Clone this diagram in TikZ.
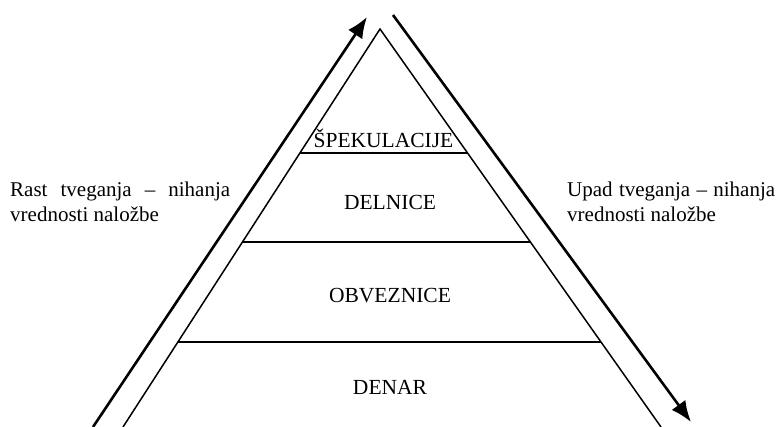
\documentclass[tikz,border=0pt]{standalone}
\usepackage{fontspec}
\setmainfont{Liberation Serif}
\usetikzlibrary{arrows.meta,calc}
\begin{document}
\begin{tikzpicture}[x=1pt,y=-1pt,
  side/.style={line width=1.5pt},
  layer/.style={line width=1.8pt},
  trend/.style={line width=2.6pt,-{Latex[length=21pt,width=17pt]}},
  lab/.style={anchor=base,inner sep=0pt,font=\fontsize{21.5}{25}\selectfont},
  note/.style={anchor=base west,inner sep=0pt,font=\fontsize{21}{25}\selectfont}]
\useasboundingbox (0,0) rectangle (779,427);
% pyramid outline
\coordinate (apex) at (380,29);
\coordinate (bl) at (123,427);
\coordinate (br) at (661,427);
\draw[side] (bl) -- (apex) -- (br);
% layer boundaries
\coordinate (l1) at ($(apex)!0.3116!(bl)$);
\coordinate (r1) at ($(apex)!0.3116!(br)$);
\coordinate (l2) at ($(apex)!0.5352!(bl)$);
\coordinate (r2) at ($(apex)!0.5352!(br)$);
\coordinate (l3) at ($(apex)!0.7864!(bl)$);
\coordinate (r3) at ($(apex)!0.7864!(br)$);
\draw[layer] (l1) -- (r1);
\draw[layer] (l2) -- (r2);
\draw[layer] (l3) -- (r3);
% layer names
\node[lab] (spek) at (383.5,148) {ŠPEKULACIJE};
\node[lab] (deln) at (390,210) {DELNICE};
\node[lab] (obv) at (390,303) {OBVEZNICE};
\node[lab] (den) at (390,395) {DENAR};
% risk arrows
\coordinate (upS) at (93,427);
\coordinate (upE) at (367,17);
\coordinate (dnS) at (393,15);
\coordinate (dnE) at (691,422);
\draw[trend] (upS) -- (upE);
\draw[trend] (dnS) -- (dnE);
% side notes
\node[note] (rast1) at (10,197) {\makebox[220pt][s]{Rast tveganja – nihanja}};
\node[note] (rast2) at (10,222) {vrednosti naložbe};
\node[note] (upad1) at (567,197) {\makebox[208pt][s]{Upad tveganja – nihanja}};
\node[note] (upad2) at (567,222) {vrednosti naložbe};
\end{tikzpicture}
\end{document}
